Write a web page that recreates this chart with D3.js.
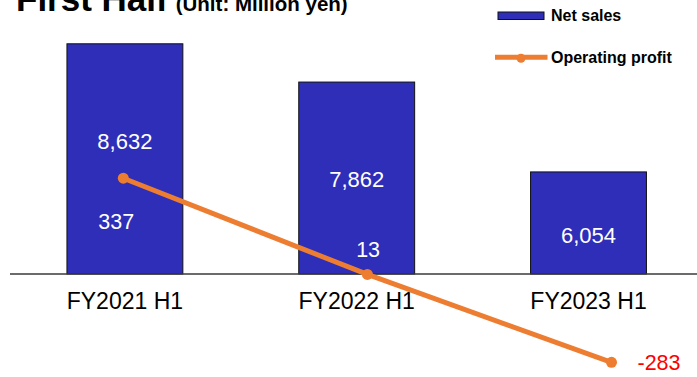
<!DOCTYPE html>
<html>
<head>
<meta charset="utf-8">
<script src="https://cdn.jsdelivr.net/npm/d3@7"></script>
<style>
  html, body { margin: 0; padding: 0; background: #fff; }
  svg { display: block; font-family: "Liberation Sans", Arial, sans-serif; }
</style>
</head>
<body>
<svg id="chart" width="697" height="377"></svg>
<script>
// Half-year results (million yen)
const categories = ["FY2021 H1", "FY2022 H1", "FY2023 H1"];
const netSales = [8632, 7862, 6054];
const operatingProfit = [337, 13, -283];
const seriesNames = ["Net sales", "Operating profit"];

const BAR_COLOR = "#2E2EB8";
const LINE_COLOR = "#ED7D31";

// thousands separator with a plain hyphen for negatives
const fmt = d3.formatLocale({ decimal: ".", thousands: ",", grouping: [3], currency: ["", ""], minus: "-" }).format(",");

const svg = d3.select("#chart");

// Scales: bars on the primary axis, the profit line on a secondary axis
const x = d3.scaleBand().domain(categories).range([9, 704.4])
  .paddingInner(0.5).paddingOuter(0.25);
const xLine = d3.scalePoint().domain(categories).range([123.3, 611.5]);
const y = d3.scaleLinear().domain([4000, 9000]).range([274, 25.5]);
const y2 = d3.scaleLinear().domain([-400, 600]).range([397.1, 100.1]);

// Title
const title = svg.append("text").attr("x", 16).attr("y", 11)
  .attr("font-weight", "bold").attr("fill", "#000");
title.append("tspan").attr("font-size", 35).text("First Half");
title.append("tspan").attr("font-size", 20.5).attr("dx", 8).text("(Unit: Million yen)");

// Bars
svg.append("g").selectAll("rect").data(netSales).join("rect")
  .attr("x", (d, i) => x(categories[i]))
  .attr("y", d => y(d))
  .attr("width", x.bandwidth())
  .attr("height", d => y(4000) - y(d))
  .attr("fill", BAR_COLOR)
  .attr("stroke", "#111")
  .attr("stroke-width", 1);

// Net sales value labels
const salesLabelDy = [105.5, 104.5, 71.5];
svg.append("g").selectAll("text").data(netSales).join("text")
  .attr("x", (d, i) => x(categories[i]) + x.bandwidth() / 2)
  .attr("y", (d, i) => y(d) + salesLabelDy[i])
  .attr("text-anchor", "middle")
  .attr("font-size", 22)
  .attr("fill", "#fff")
  .text(d => fmt(d));

// Category axis
const xAxis = svg.append("g").attr("transform", `translate(0,${y(4000)})`)
  .call(d3.axisBottom(x).tickSize(0).tickPadding(0));
xAxis.select(".domain").remove();
xAxis.append("line").attr("x1", 10).attr("x2", 697).attr("y1", 0).attr("y2", 0)
  .attr("stroke", "#3a3a3a").attr("stroke-width", 1.5);
xAxis.selectAll(".tick text")
  .attr("font-family", "\"Liberation Sans\", Arial, sans-serif")
  .attr("font-size", 23)
  .attr("fill", "#000")
  .attr("dy", null)
  .attr("y", 35.3);

// Operating profit line
const line = d3.line()
  .x((d, i) => xLine(categories[i]))
  .y(d => y2(d));
svg.append("path").datum(operatingProfit)
  .attr("d", line)
  .attr("fill", "none")
  .attr("stroke", LINE_COLOR)
  .attr("stroke-width", 5);
svg.append("g").selectAll("circle").data(operatingProfit).join("circle")
  .attr("cx", (d, i) => xLine(categories[i]))
  .attr("cy", d => y2(d))
  .attr("r", 5.5)
  .attr("fill", LINE_COLOR);

// Operating profit labels
const profitLabelPos = [
  { dx: -7, dy: 51, anchor: "middle", color: "#fff" },
  { dx: 0.7, dy: -17.5, anchor: "middle", color: "#fff" },
  { dx: 26, dy: 8, anchor: "start", color: "#FF0000" }
];
svg.append("g").selectAll("text").data(operatingProfit).join("text")
  .attr("x", (d, i) => xLine(categories[i]) + profitLabelPos[i].dx)
  .attr("y", d => y2(d))
  .attr("dy", (d, i) => profitLabelPos[i].dy)
  .attr("text-anchor", (d, i) => profitLabelPos[i].anchor)
  .attr("font-size", 21.5)
  .attr("fill", (d, i) => profitLabelPos[i].color)
  .text(d => fmt(d));

// Legend
const legend = svg.append("g");
legend.append("rect").attr("x", 498).attr("y", 12).attr("width", 46).attr("height", 7.5)
  .attr("fill", BAR_COLOR).attr("stroke", "#111").attr("stroke-width", 1);
legend.append("line").attr("x1", 495).attr("x2", 547.5).attr("y1", 57.3).attr("y2", 57.3)
  .attr("stroke", LINE_COLOR).attr("stroke-width", 5);
legend.append("circle").attr("cx", 521).attr("cy", 58.3).attr("r", 4.5).attr("fill", LINE_COLOR);
legend.selectAll("text.lg").data(seriesNames).join("text")
  .attr("class", "lg")
  .attr("x", 551)
  .attr("y", (d, i) => i === 0 ? 20.7 : 63.3)
  .attr("font-size", 16)
  .attr("font-weight", "bold")
  .attr("fill", "#000")
  .text(d => d);
</script>
</body>
</html>
